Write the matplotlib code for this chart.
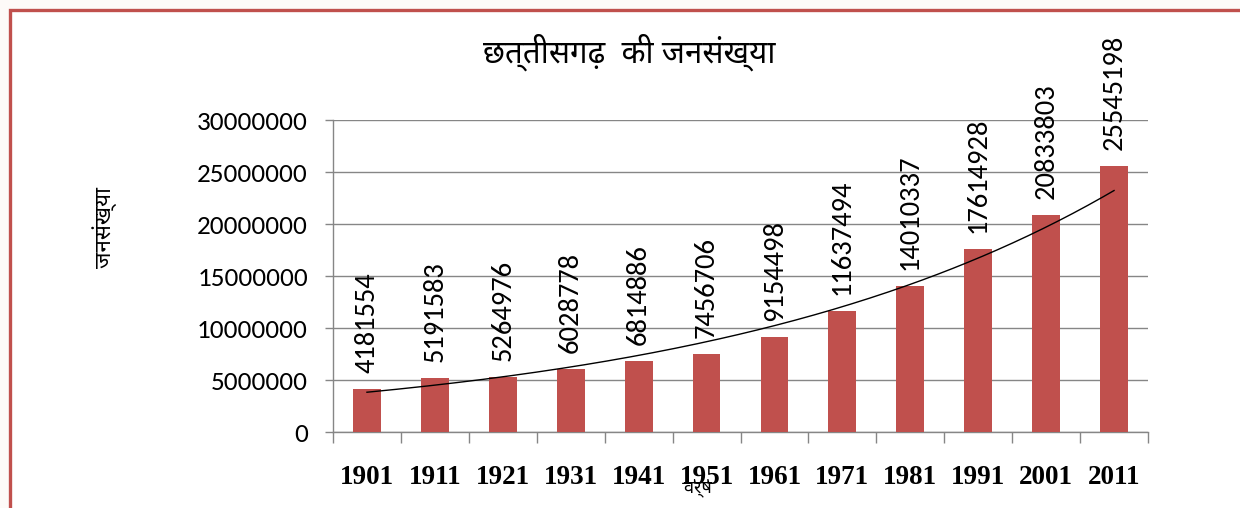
import numpy as np
import matplotlib
matplotlib.use('Agg')
import matplotlib.pyplot as plt
from matplotlib.patches import Rectangle
from matplotlib.ticker import FixedLocator, NullFormatter

# ── data ─────────────────────────────────────────────────────────────────────
years = ['1901', '1911', '1921', '1931', '1941', '1951',
         '1961', '1971', '1981', '1991', '2001', '2011']
population = [4181554, 5191583, 5264976, 6028778, 6814886, 7456706,
              9154498, 11637494, 14010337, 17614928, 20833803, 25545198]
y_ticks = [0, 5000000, 10000000, 15000000, 20000000, 25000000, 30000000]

title = 'छत्तीसगढ़  की जनसंख्या'
y_label = 'जनसंख्या'
x_label = 'वर्ष'

# ── style ────────────────────────────────────────────────────────────────────
BAR_C  = '#C0504D'
GRID_C = '#868686'
DEVA   = ['Noto Sans Devanagari', 'Hind', 'Amiko', 'DejaVu Sans']
NUM    = ['Carlito', 'Lato', 'DejaVu Sans']
SERIF  = ['Liberation Serif', 'DejaVu Serif']

fig = plt.figure(figsize=(12.4, 5.08), dpi=100, facecolor='#FDFAF8')
# white panel with red frame (left/top visible, rest runs off the image)
fig.patches.append(Rectangle((9.5 / 1240, -0.05), 1.2, 1 - 10.5 / 508 + 0.05,
                             transform=fig.transFigure, facecolor='white',
                             edgecolor=BAR_C, lw=2.4, zorder=-5))

ax = fig.add_axes([333 / 1240, 1 - 432 / 508, 815 / 1240, 312 / 508])
ax.set_facecolor('none')

x = np.arange(len(years)) + 0.5
ax.bar(x, population, width=0.41, color=BAR_C, zorder=3)

# exponential trendline (least-squares fit on log values, like Excel)
b, a = np.polyfit(np.arange(1, len(years) + 1), np.log(population), 1)
xt = np.linspace(1, len(years), 200)
ax.plot(xt - 0.5, np.exp(a + b * xt), color='black', lw=1.0, zorder=4)

for xi, v in zip(x, population):
    ax.annotate(str(v), (xi, v), xytext=(0, 11.5), textcoords='offset points',
                rotation=90, ha='center', va='bottom', fontsize=20.5,
                family=NUM, zorder=5)

ax.set_xlim(0, len(years))
ax.set_ylim(0, 30000000)
ax.set_yticks(y_ticks)
ax.set_yticklabels([str(t) for t in y_ticks], family=NUM, fontsize=19.5)
ax.yaxis.grid(True, color=GRID_C, lw=1.0, zorder=0)
ax.tick_params(axis='y', length=6, width=1.0, color=GRID_C, pad=12)

ax.xaxis.set_major_locator(FixedLocator(x))
ax.set_xticklabels(years, family=SERIF, fontsize=19.5, fontweight='bold')
ax.xaxis.set_minor_locator(FixedLocator(np.arange(len(years) + 1)))
ax.xaxis.set_minor_formatter(NullFormatter())
ax.tick_params(axis='x', which='major', length=0, pad=24)
ax.tick_params(axis='x', which='minor', length=8, width=1.0, color=GRID_C)

for s in ('top', 'right'):
    ax.spines[s].set_visible(False)
for s in ('left', 'bottom'):
    ax.spines[s].set_color(GRID_C)
    ax.spines[s].set_linewidth(1.0)

fig.text(629 / 1240, 1 - 52 / 508, title, family=DEVA, fontsize=22.5,
         ha='center', va='center')
fig.text(105 / 1240, 1 - 227 / 508, y_label, family=DEVA, fontsize=16,
         rotation=90, ha='center', va='center')
fig.text(698 / 1240, 1 - 488 / 508, x_label, family=DEVA, fontsize=13,
         ha='center', va='center')

fig.savefig('out.png', dpi=100, facecolor=fig.get_facecolor())
